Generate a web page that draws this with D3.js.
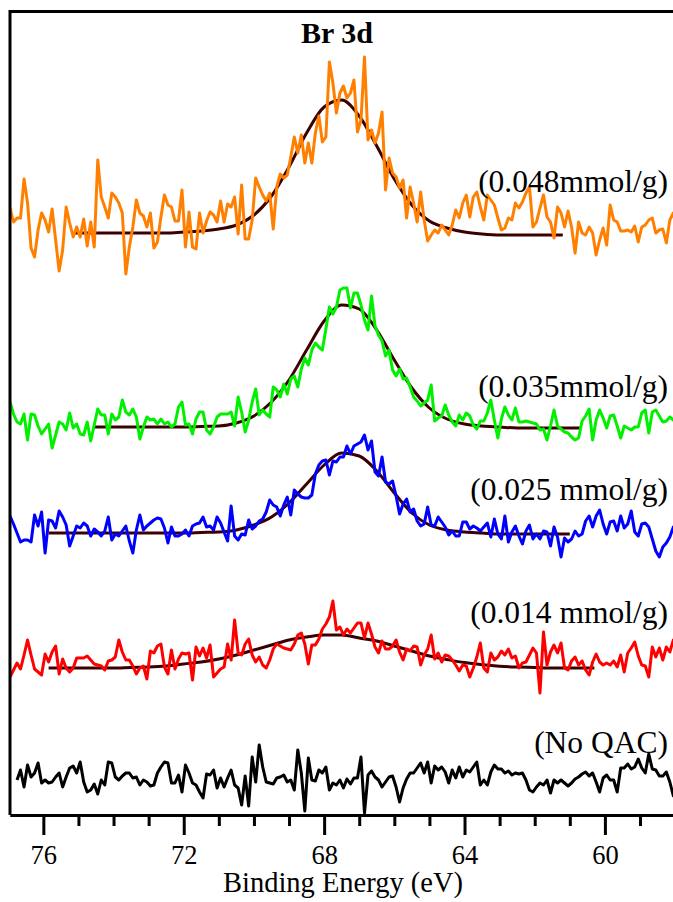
<!DOCTYPE html>
<html>
<head>
<meta charset="utf-8">
<script src="https://cdn.jsdelivr.net/npm/d3@7"></script>
<style>
  body { margin: 0; background: #fff; }
  svg { display: block; font-family: "Liberation Serif", "Times New Roman", serif; }
</style>
</head>
<body>
<script>
// XPS Br 3d spectra, intensity in a.u. relative to each trace's own baseline
var orange = [25,11,15,15,54,30,-15,-24,3,20, 13,1,24,-7,-38,-17,26,10,-4,6, -4,14,-13,11,-14,73,36,26,15,40,
  36,30,20,-41,-14,6,33,20,17,6, 20,-15,-9,16,38,28,26,12,12,43, -14,21,-14,-16,20,0,12,21,18,11,
  32,11,29,26,36,-1,48,-6,-6,13, 55,46,38,32,40,4,46,59,55,58, 76,96,80,98,70,90,70,100,117,91,
  96,171,150,120,140, 147,135,140,153,101, 113,176,93,103,90,100,121,43,75,60, 56,45,53,15,46,30,11,41,13,-8,
  -2,3,0,8,3,-2,8,23,15,30, 38,16,36,41,26,13,38,33,28,15, 3,5,15,13,30,25,31,40,46,6,
  11,25,38,16,11,-5,26,20,6,22, 6,-20,11,0,-2,6,0,-22,-7,5, -12,28,13,11,2,2,3,1,7,-9,
  6,8,13,15,0,3,4,-10,13,20, 5];
var green = [25,13,5,3,13,-13,13,12,1,-7, -2,3,-21,-8,5,3,-3,14,-1,3, -7,-8,5,-14,2,18,12,12,-7,13,
  7,10,27,15,12,18,10,-12,0,10, 7,8,3,8,3,5,0,3,20,25, 2,3,-7,8,15,15,-3,-7,0,10,
  13,13,13,15,1,30,15,-5,7,25, 38,12,17,13,10,40,37,30,43,33, 48,51,40,58,69,62,77,84,80,77,
  98,120,113,120,137, 139,139,119,134,134, 122,107,97,131,101,92,86,71,77,57, 51,58,48,49,40,30,26,21,24,27,
  42,6,9,11,22,12,5,1,12,7, 14,11,2,-2,6,6,14,27,7,-11, 8,20,12,7,19,5,5,6,5,4,
  3,-3,-2,-13,1,17,1,-2,-5,-6, -10,-13,-11,6,11,18,-13,7,17,9, -1,11,12,1,-11,1,-1,-3,0,0,
  14,17,-6,15,17,11,5,6,10,7, 11];
var blue = [17,9,0,-9,-7,-7,-9,18,7,21, -20,13,12,5,22,16,8,-13,-3,7, 5,10,7,-3,4,1,-3,2,16,-7,
  -1,-3,2,7,-8,-20,3,18,3,7, 10,13,15,14,5,-10,6,-3,-3,-1, 3,-3,7,9,10,16,6,7,3,16,
  10,1,-8,27,-3,-7,-1,-2,13,4, 7,12,14,21,33,28,26,17,28,36, 18,43,39,36,35,35,38,59,68,72,
  73,58,72,71,76, 76,87,79,87,89, 91,98,83,92,61,57,76,51,49,52, 37,19,29,34,21,24,12,7,9,26,
  8,7,16,11,6,-2,2,-3,-3,11, 11,4,7,5,2,6,10,-4,14,-1, -6,17,-9,1,7,-3,-11,2,8,-6,
  -1,-6,2,1,-13,6,-4,-24,-5,-9, -6,2,-3,-1,12,17,6,17,23,9, -1,11,12,2,17,5,9,22,1,-3,
  9,10,6,-6,-18,-24,-14,-10,-4,6, 4];
var red = [-9,-2,5,-1,13,28,13,-1,-4,-7, 14,6,16,22,-6,9,0,-4,0,10, 10,10,12,8,4,3,2,-2,7,8,
  11,28,16,8,8,2,-6,0,2,-11, 17,15,22,24,1,-6,18,-1,9,15, 14,15,-12,21,12,20,10,23,-9,-5,
  -1,1,24,8,48,15,13,24,29,13, 6,11,3,0,8,19,24,22,20,19, 18,24,33,35,24,4,23,23,29,39,
  44,51,67,38,41, 33,39,35,40,45, 45,30,45,34,21,15,27,19,19,22, 28,16,8,19,17,22,21,3,13,19,
  33,9,15,6,13,12,8,3,-3,3, 2,-9,0,11,25,0,-4,15,8,11, 17,13,19,10,12,0,5,6,13,20,
  15,-25,36,3,16,23,15,25,0,-2, 7,11,3,7,-2,-7,6,14,6,3, 5,3,7,1,13,-4,15,20,26,12,
  3,2,-9,21,11,20,8,21,16,28, 30];
var black = [null,null,0,10,-7,15,3,7,17,-3, 0,-3,-2,3,7,-7,3,12,14,7, 18,-2,-12,-10,-4,-14,0,-5,18,17,
  3,0,4,7,7,2,3,-5,0,-2, -6,-5,7,13,18,17,-3,-3,5,-12, 15,7,-3,-5,-12,-18,6,5,10,-8,
  2,-7,2,10,-5,-8,-25,4,-26,23, -2,35,13,-2,-3,-4,2,3,5,-2, 0,-10,30,7,-31,22,0,-1,10,7,
  13,-10,-3,-5,0, -8,1,-4,2,2, 23,-33,5,9,3,0,-7,-2,3,4, -7,-22,-8,1,7,7,12,17,7,18,
  -3,14,10,13,8,-3,10,2,13,3, 10,8,13,18,-5,0,-5,8,15,11, 11,7,9,5,7,6,7,0,-10,-12,
  -7,-3,-5,0,-13,0,-3,0,-3,-6, -3,1,3,6,8,4,7,-2,-12,2, 5,0,0,-12,12,12,16,11,13,21,
  12,7,26,11,10,4,4,8,-2,-16, 0];

// binding energy of every sample (0.1 eV step)
var energy = d3.range(orange.length).map(function(i) { return +(76.95 - 0.1 * i).toFixed(2); });

// fitted envelopes
var fitOrangeE = [75.1,74.5,74,73.5,73,72.5,72,71.5,71,70.5,70,69.5,69,68.5,68,67.5,67,66.5,66,65.5,65,64.5,64,63.5,63,62.5,62,61.5,61.2];
var fitOrange  = [0,0,0,0,0,0,1,2,4,8,18,37,66,100,126,133,117,87,54,28,12,5,1,-1,-2,-2,-2,-2,-2];
var fitGreenE = [74.55,74,73.5,73,72.5,72,71.5,71,70.5,70,69.5,69,68.5,68,67.5,67,66.5,66,65.5,65,64.5,64,63.5,63,62.5,62,61.5,61,60.7];
var fitGreen  = [0,0,0,0,0,0,0.5,1,4,11,25,47,77,106,122,118,97,67,39,19,8,3,1,0,-1,-1,-1,-1,-1];
var fitBlueE = [75.85,75,74.5,74,73.5,73,72.5,72,71.5,71,70.5,70,69.5,69,68.5,68,67.5,67,66.5,66,65.5,65,64.5,64,63.5,63,62.5,62,61.5,61];
var fitBlue  = [0,0,0,0,0,0,0,0,0.5,1,3,8,16,30,49,68,80,77,62,40,20,8,3,1,0,-1,-1,-1,-1,-1];
var fitRedE = [75.85,75,74.5,74,73.5,73,72.5,72,71.5,71,70.5,70,69.5,69,68.5,68,67.5,67,66.5,66,65.5,65,64.5,64,63.5,63,62.5,62,61.5,61,60.3];
var fitRed  = [0,0,0,0,0.6,1,2,4,6,9,13,18,23,28,31,33,33,30,27,22,17,12,8.5,5.4,3.3,1.8,1,0.5,0,0,0];

var labels = ["(0.048mmol/g)", "(0.035mmol/g)", "(0.025 mmol/g)", "(0.014 mmol/g)", "(No QAC)"];
var offsets = [582, 388, 282, 147, 35];          // vertical stacking offsets (a.u.)
var majorTicks = [76, 72, 68, 64, 60];

var colors = ["#ff8000", "#00f000", "#0000ff", "#ff0000", "#000000"];
var fitColor = "#3d0000";
var labelDy = [41, 30, 33, 45, 27];

var seriesData = [orange, green, blue, red, black];
var fitsE = [fitOrangeE, fitGreenE, fitBlueE, fitRedE, null];
var fitsV = [fitOrange, fitGreen, fitBlue, fitRed, null];

var width = 673, height = 902;
var marginLeft = 10, plotTop = 11.5, plotBottom = 815;

var x = d3.scaleLinear().domain([76.95, 58.06]).range([marginLeft, width]);
var y = d3.scaleLinear().domain([0, 803.5]).range([plotBottom, plotTop]);

var svg = d3.select("body").append("svg")
	.attr("width", width)
	.attr("height", height);

svg.append("clipPath").attr("id", "plot")
	.append("rect")
	.attr("x", marginLeft).attr("y", plotTop)
	.attr("width", width - marginLeft).attr("height", plotBottom - plotTop);

var plot = svg.append("g").attr("clip-path", "url(#plot)");

// fits first, raw data drawn on top
seriesData.forEach(function(vals, k) {
	if (fitsE[k]) {
		var fitLine = d3.line()
			.x(function(d, i) { return x(fitsE[k][i]); })
			.y(function(d) { return y(offsets[k] + d); })
			.curve(d3.curveMonotoneX);
		plot.append("path")
			.attr("d", fitLine(fitsV[k]))
			.attr("fill", "none")
			.attr("stroke", fitColor)
			.attr("stroke-width", 3);
	}
});

seriesData.forEach(function(vals, k) {
	var line = d3.line()
		.defined(function(d) { return d !== null; })
		.x(function(d, i) { return x(energy[i]); })
		.y(function(d) { return y(offsets[k] + d); });
	plot.append("path")
		.attr("d", line(vals))
		.attr("fill", "none")
		.attr("stroke", colors[k])
		.attr("stroke-width", 3)
		.attr("stroke-linejoin", "round");
});

// labels
labels.forEach(function(t, k) {
	svg.append("text")
		.attr("x", 668)
		.attr("y", y(offsets[k]) - labelDy[k])
		.attr("text-anchor", "end")
		.attr("font-size", "31.5px")
		.attr("fill", "#000")
		.text(t);
});

// frame (top + left)
svg.append("line")
	.attr("x1", marginLeft).attr("x2", width)
	.attr("y1", plotTop).attr("y2", plotTop)
	.attr("stroke", "#000").attr("stroke-width", 3);
svg.append("line")
	.attr("x1", marginLeft).attr("x2", marginLeft)
	.attr("y1", plotTop - 1.5).attr("y2", plotBottom)
	.attr("stroke", "#000").attr("stroke-width", 3);

// minor ticks
var minorAxis = d3.axisBottom(x)
	.tickValues(d3.range(58, 77).filter(function(v) { return majorTicks.indexOf(v) < 0; }))
	.tickSize(11)
	.tickSizeOuter(0)
	.tickFormat("");
svg.append("g")
	.attr("class", "minor axis")
	.attr("transform", "translate(0," + plotBottom + ")")
	.call(minorAxis);

var bottomAxis = d3.axisBottom(x)
	.tickValues(majorTicks)
	.tickSize(20)
	.tickSizeOuter(0)
	.tickFormat(d3.format("d"));
var gx = svg.append("g")
	.attr("class", "bottom axis")
	.attr("transform", "translate(0," + plotBottom + ")")
	.call(bottomAxis);

svg.selectAll(".axis path.domain").attr("stroke-width", 3);
svg.selectAll(".axis .tick line").attr("stroke-width", 3);
gx.selectAll("text")
	.attr("y", 30)
	.attr("font-size", "26.5px")
	.attr("font-family", "Liberation Serif, serif")
	.attr("fill", "#000");

svg.append("text")
	.attr("x", 343)
	.attr("y", 892)
	.attr("text-anchor", "middle")
	.attr("font-size", "28.5px")
	.text("Binding Energy (eV)");

svg.append("text")
	.attr("x", 337)
	.attr("y", 43)
	.attr("text-anchor", "middle")
	.attr("font-size", "30px")
	.attr("font-weight", "bold")
	.text("Br 3d");
</script>
</body>
</html>
